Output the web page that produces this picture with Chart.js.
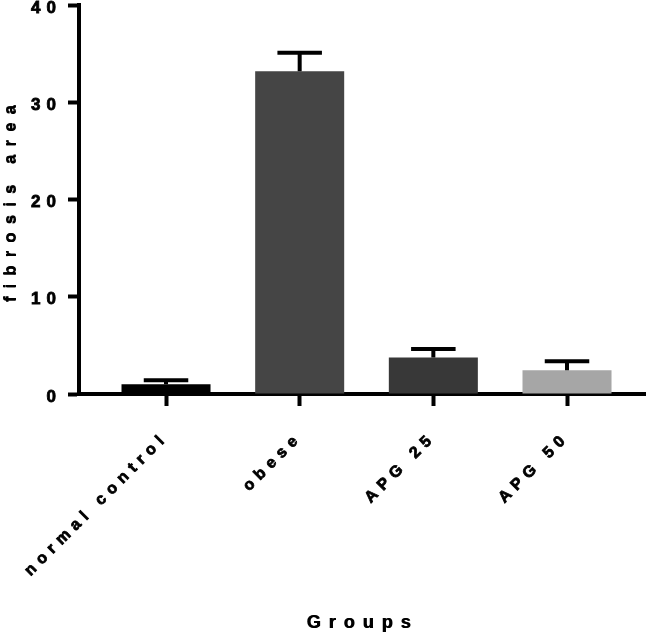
<!DOCTYPE html>
<html>
<head>
<meta charset="utf-8">
<script src="https://cdn.jsdelivr.net/npm/chart.js@4.4.1/dist/chart.umd.min.js"></script>
<style>
  html, body { margin: 0; padding: 0; background: #fff; }
  #wrap { width: 646px; height: 634px; }
</style>
</head>
<body>
<div id="wrap"><canvas id="fibrosisChart"></canvas></div>
<script>
const groups = ['normal control', 'obese', 'APG 25', 'APG 50'];
const fibrosisMean = [1.0, 33.2, 3.75, 2.45];
const fibrosisSem = [0.42, 1.9, 0.88, 0.92];
const barColors = ['#000000', '#454545', '#383838', '#a6a6a6'];

// upward-only SEM whiskers like the original Prism plot
const errorBars = {
  id: 'errorBars',
  afterDatasetsDraw(chart) {
    const {ctx, scales: {y}} = chart;
    const meta = chart.getDatasetMeta(0);
    ctx.save();
    ctx.strokeStyle = '#000';
    ctx.lineWidth = 4;
    meta.data.forEach((bar, i) => {
      const top = y.getPixelForValue(fibrosisMean[i] + fibrosisSem[i]);
      const half = bar.width * 0.25;
      ctx.beginPath();
      ctx.moveTo(bar.x, bar.y);
      ctx.lineTo(bar.x, top);
      ctx.moveTo(bar.x - half, top);
      ctx.lineTo(bar.x + half, top);
      ctx.stroke();
    });
    ctx.restore();
  }
};

// spaced-out, heavy lettering
const spacing = {
  id: 'spacing',
  beforeLayout(chart) { chart.ctx.letterSpacing = '6px'; },
  beforeDraw(chart) {
    chart.ctx.letterSpacing = '6px';
    Object.values(chart.scales).forEach(s => {
      if (s._spacedTitle) return;
      const orig = s.drawTitle;
      s.drawTitle = function () {
        const c = this.ctx;
        c.save();
        c.letterSpacing = '8px';
        c.shadowColor = '#000';
        c.shadowBlur = 0;
        c.shadowOffsetX = 0.7;
        orig.call(this);
        c.restore();
      };
      s._spacedTitle = true;
    });
  }
};

const font = (size) => ({ family: 'Liberation Sans', size: size, weight: 'bold' });

const noOverflow = (scale) => {
  scale.paddingTop = 0;
  scale.paddingBottom = 0;
  scale.paddingLeft = 0;
  scale.paddingRight = 0;
};

const config = {
  type: 'bar',
  data: {
    datasets: [{
      data: groups.map((g, i) => ({ x: i, y: fibrosisMean[i] })),
      backgroundColor: barColors,
      borderWidth: 0,
      barPercentage: 1,
      categoryPercentage: 0.666
    }]
  },
  options: {
    responsive: true,
    maintainAspectRatio: false,
    animation: false,
    layout: { padding: { top: 5, left: 0, right: 0, bottom: 0 } },
    plugins: { legend: { display: false }, tooltip: { enabled: false } },
    scales: {
      x: {
        type: 'linear',
        offset: false,
        min: -0.651,
        max: 3.591,
        afterBuildTicks(scale) { scale.ticks = groups.map((g, i) => ({ value: i })); },
        afterFit(scale) { scale.height = 240; noOverflow(scale); },
        ticks: {
          autoSkip: false,
          minRotation: 45,
          maxRotation: 45,
          padding: 22,
          color: '#000',
          textStrokeColor: '#000',
          textStrokeWidth: 0.8,
          font: font(16),
          callback: (v) => groups[v]
        },
        grid: { offset: false, drawOnChartArea: false, tickLength: 12, tickWidth: 4, tickColor: '#000' },
        border: { color: '#000', width: 4 },
        title: { display: true, text: 'Groups', color: '#000', font: font(18), padding: 0 }
      },
      y: {
        min: 0,
        max: 40,
        afterFit(scale) { scale.width = 79; noOverflow(scale); },
        ticks: {
          stepSize: 10,
          padding: 6,
          labelOffset: 3,
          color: '#000',
          textStrokeColor: '#000',
          textStrokeWidth: 0.8,
          font: font(17)
        },
        grid: { drawOnChartArea: false, tickLength: 11, tickWidth: 4, tickColor: '#000' },
        border: { color: '#000', width: 4 },
        title: { display: true, text: 'fibrosis area', color: '#000', font: font(17), padding: 0 }
      }
    }
  },
  plugins: [spacing, errorBars]
};

const myChart = new Chart(document.getElementById('fibrosisChart'), config);
</script>
</body>
</html>
